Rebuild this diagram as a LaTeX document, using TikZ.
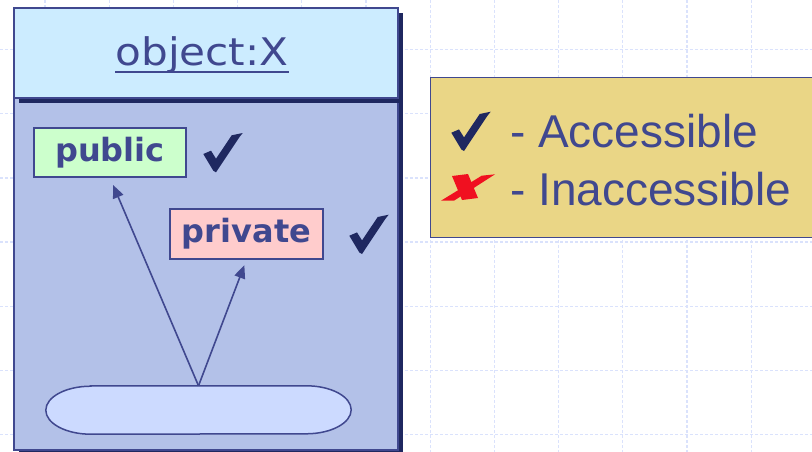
\documentclass[tikz,border=0pt]{standalone}
\usepackage{graphicx}
\usepackage{fontspec}
\newfontfamily\dejavu{DejaVu Sans}
\newfontfamily\libsans{Liberation Sans}
\usepackage{tikz}
\usetikzlibrary{arrows.meta,calc,shadows}

\definecolor{inkblue}{RGB}{64,72,143}
\definecolor{navy}{RGB}{31,40,96}
\definecolor{titlefill}{RGB}{204,236,255}
\definecolor{bodyfill}{RGB}{179,193,232}
\definecolor{pubfill}{RGB}{204,255,204}
\definecolor{privfill}{RGB}{255,204,204}
\definecolor{blobfill}{RGB}{204,218,255}
\definecolor{legendfill}{RGB}{234,214,134}
\definecolor{xred}{RGB}{240,16,32}
\definecolor{gridblue}{RGB}{218,226,252}

\newcommand{\ulbox}[1]{\setbox0\hbox{#1}\leavevmode\rlap{\raisebox{-7pt}{\rule{\wd0}{2.2pt}}}\box0}

\begin{document}
\begin{tikzpicture}[x=1pt,y=-1pt,
  gridline/.style={gridblue,line width=1.3pt,dash pattern=on 3pt off 2pt},
  objbox/.style={draw=inkblue,line width=1.4pt,
    drop shadow={fill=navy,opacity=1,shadow xshift=5pt,shadow yshift=-5pt}},
  membox/.style={draw=inkblue,line width=1.3pt,inner sep=0pt,text=inkblue,
    font=\dejavu\bfseries\fontsize{32}{34}\selectfont},
  arr/.style={inkblue,line width=1.6pt,-{Triangle[length=13pt,width=11pt]}},
  tick/.pic={\fill[navy] (0,0) -- (-2.7,-1.6) -- (-12.7,-18.3) -- (-5,-21.6) -- (0,-13.6)
      -- (15.7,-37) -- (26.7,-39.3) -- (23.3,-35) -- cycle;},
  cross/.pic={\fill[xred] (1,35.7) -- (14,35.7) -- (55,9.3) -- (41.7,10.7) -- cycle;
    \fill[xred] (12,11) -- (28,9) -- (38,33) -- (22,35) -- cycle;}]
\useasboundingbox (0,0) rectangle (812,452);
% background grid
\foreach \i in {0,...,11} \draw[gridline] ({45+64.2*\i},0) -- ++(0,452);
\foreach \j in {0,...,6} \draw[gridline] (0,{49.5+64.2*\j}) -- ++(812,0);

% the object
\node[objbox,fill=bodyfill,minimum width=384pt,minimum height=352pt] (body) at (206,274) {};
\node[objbox,fill=titlefill,minimum width=384pt,minimum height=90pt] (title) at (206,53) {};
\node[anchor=base,text=inkblue,inner sep=0pt,font=\dejavu\fontsize{38}{40}\selectfont]
  (titletext) at (202,66) {\scalebox{1.11}[1]{\ulbox{object:X}}};

\node[membox,fill=pubfill,minimum width=152pt,minimum height=49pt] (public) at (110,152.5) {public};
\node[membox,fill=privfill,minimum width=153pt,minimum height=50pt] (private) at (246.5,234) {private};
\pic at (216,172.3) {tick};
\pic at (362,254) {tick};

\node[minimum width=305pt,minimum height=48pt,inner sep=0pt] (blob) at (198.5,410) {};
\draw[inkblue,line width=1.5pt,fill=blobfill]
  ($(blob.north west)+(45,0)$) -- ($(blob.north east)+(-45,0)$)
  arc[start angle=90,end angle=-90,x radius=45pt,y radius=24pt]
  -- ($(blob.south west)+(45,0)$)
  arc[start angle=270,end angle=90,x radius=45pt,y radius=24pt] -- cycle;
\draw[arr,shorten >=8pt] (blob.north) -- (public.south);
\draw[arr,shorten >=6pt] (blob.north) -- (private.south);

% legend
\node[draw=inkblue,line width=1.4pt,fill=legendfill,minimum width=386pt,minimum height=160pt,
  anchor=north west] (legend) at (430,77) {};
\pic at (464,151) {tick};
\pic at (440,165) {cross};
\node[anchor=base west,inner sep=0pt,text=inkblue,font=\libsans\fontsize{46}{48}\selectfont]
  (acc) at (510,147) {- Accessible};
\node[anchor=base west,inner sep=0pt,text=inkblue,font=\libsans\fontsize{46}{48}\selectfont]
  (inacc) at (510,205) {- Inaccessible};
\end{tikzpicture}
\end{document}
